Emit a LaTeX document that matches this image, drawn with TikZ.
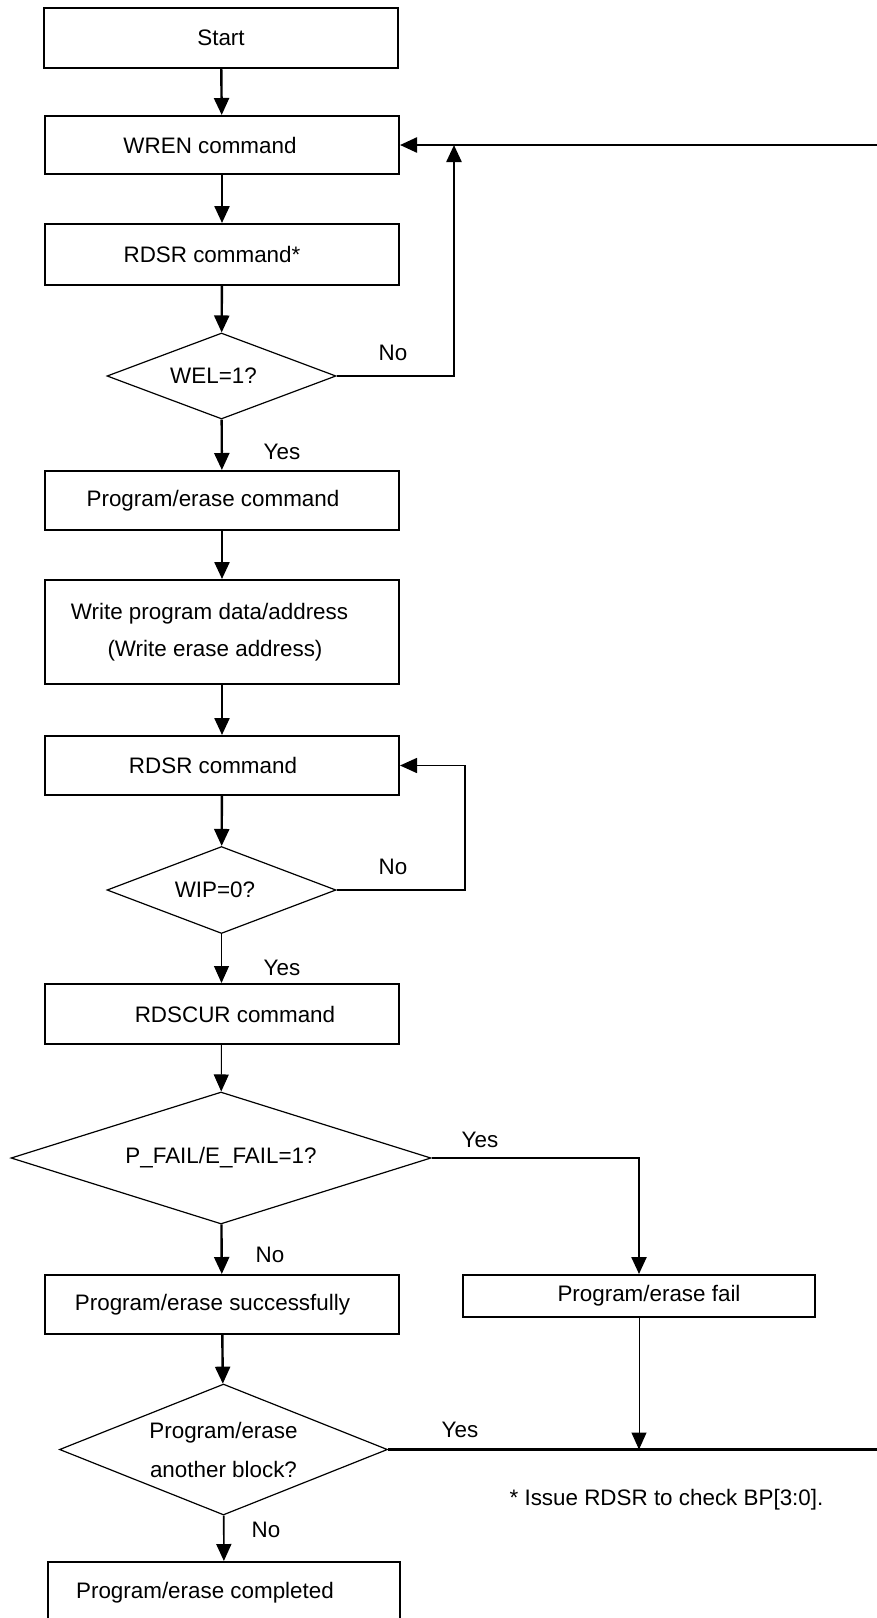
\documentclass[tikz,border=0pt]{standalone}
\usepackage{fontspec}
\setmainfont{Liberation Sans}
\usetikzlibrary{shapes.geometric,arrows.meta}
\begin{document}
\begin{tikzpicture}[x=0.5pt,y=-0.5pt,
  every node/.style={font=\fontsize{11.2}{13.4}\selectfont},
  box/.style={draw, line width=1pt, minimum width=177pt, minimum height=29.5pt, inner sep=0pt},
  dec/.style={draw, diamond, line width=0.6pt, inner sep=0pt},
  thickarrow/.style={line width=1.2pt, -{Triangle[length=8.5pt,width=7.5pt]}},
  medarrow/.style={line width=0.8pt, -{Triangle[length=8.5pt,width=7.5pt]}},
  thinarrow/.style={line width=0.5pt, -{Triangle[length=8.5pt,width=7.5pt]}},
  thickline/.style={line width=1.2pt},
  lbl/.style={inner sep=0pt}]
\useasboundingbox (0,0) rectangle (877,1618);
\clip (0,0) rectangle (877,1618);

% boxes and decisions
\node[box, minimum height=30pt] (start) at (221,38) {Start};
\node[box, minimum height=29pt] (wren) at (222,145) {\hspace*{-12pt}WREN command};
\node[box, minimum height=30.5pt] (rdsr1) at (222,254.5) {\hspace*{-10pt}RDSR command*};
\node[dec, aspect=2.66, minimum width=114.5pt, minimum height=43pt] (wel) at (221.5,376) {\hspace*{-8pt}WEL=1?};
\node[box] (pec) at (222,500.5) {\hspace*{-9pt}Program/erase command};
\node[box, minimum height=52pt, align=center, font=\fontsize{11.2}{18.5}\selectfont] (write) at (222,632)
  {\hspace*{-12.5pt}Write program data/address\\\hspace*{-7pt}(Write erase address)};
\node[box] (rdsr2) at (222,765.5) {\hspace*{-9pt}RDSR command};
\node[dec, aspect=2.63, minimum width=114.5pt, minimum height=43.5pt] (wip) at (221.5,890) {\hspace*{-6.5pt}WIP=0?};
\node[box, minimum height=30pt] (rdscur) at (221.5,1014) {RDSCUR command\hspace*{-13.5pt}};
\node[dec, aspect=3.18, minimum width=210pt, minimum height=66pt] (pfail) at (221,1158) {P\_FAIL/E\_FAIL=1?};
\node[box] (success) at (222,1304.5) {\hspace*{-9.5pt}Program/erase successfully};
\node[box, minimum width=176pt, minimum height=21pt] (fail) at (639,1296) {Program/erase fail\hspace*{-10pt}};
\node[dec, aspect=2.5, minimum width=164pt, minimum height=65.5pt, align=center, font=\fontsize{11.2}{19.5}\selectfont] (another) at (223.5,1449.5)
  {Program/erase\\another block?};
\node[box, minimum width=176pt, minimum height=31pt] (done) at (224,1593) {\hspace*{-19pt}Program/erase completed};

% labels
\node[lbl] (no1) at (393,353) {No};
\node[lbl] (yes1) at (282,452) {Yes};
\node[lbl] (no2) at (393,867) {No};
\node[lbl] (yes2) at (282,968) {Yes};
\node[lbl] (yes3) at (480,1140) {Yes};
\node[lbl] (no3) at (270,1255) {No};
\node[lbl] (yes4) at (460,1430) {Yes};
\node[lbl] (no4) at (266,1530) {No};
\node[lbl] (note) at (666.5,1500) {* Issue RDSR to check BP[3:0].};

% free ends
\coordinate (loopA) at (454,145);
\coordinate (rightA) at (877,145);
\coordinate (loopB) at (465,890);
\coordinate (rightB) at (877,1449.5);
\coordinate (joinB) at (639,1449.5);

% connectors
\draw[thickarrow] (start) -- (wren);
\draw[thickarrow] (wren) -- (rdsr1);
\draw[thickarrow] (rdsr1) -- (wel);
\draw[thickarrow] (wel.east) -| (loopA);
\draw[thickarrow] (rightA) -- (wren.east);
\draw[thickarrow] (wel) -- (pec);
\draw[thickarrow] (pec) -- (write);
\draw[thickarrow] (write) -- (rdsr2);
\draw[thickarrow] (rdsr2) -- (wip);
\draw[medarrow] (wip.east) -- (loopB) |- (rdsr2.east);
\draw[thinarrow] (wip) -- (rdscur);
\draw[thinarrow] (rdscur) -- (pfail);
\draw[thickarrow] (pfail.east) -| (fail.north);
\draw[thickarrow] (pfail) -- (success);
\draw[thickarrow] (success) -- (another);
\draw[thickline] (another.east) -- (rightB);
\draw[thinarrow] (fail) -- (joinB);
\draw[medarrow] (another) -- (done);
\end{tikzpicture}
\end{document}
